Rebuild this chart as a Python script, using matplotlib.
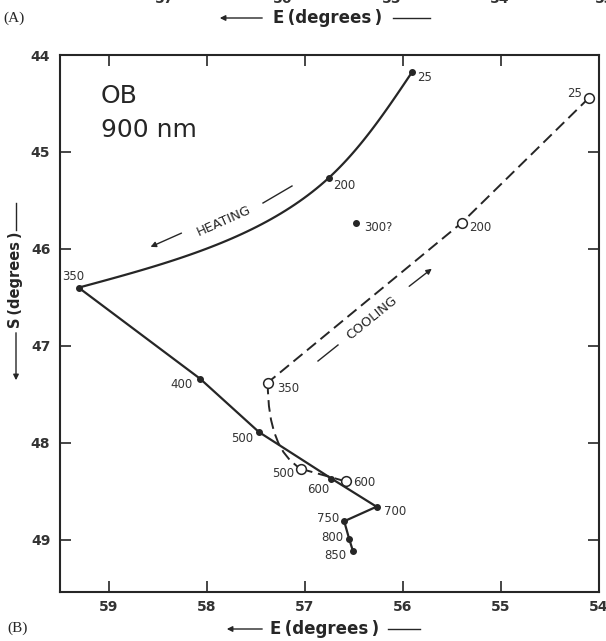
import numpy as np
import matplotlib
matplotlib.use("Agg")
import matplotlib.pyplot as plt
from matplotlib.path import Path
from matplotlib.patches import PathPatch, FancyArrowPatch

# ---------------- data ----------------
heat_T = ["25", "200", "350", "400", "500", "600", "700", "750", "800", "850"]
heat_E = [55.91, 56.76, 59.31, 58.07, 57.47, 56.73, 56.27, 56.60, 56.55, 56.51]
heat_S = [44.18, 45.27, 46.40, 47.34, 47.89, 48.37, 48.66, 48.81, 48.99, 49.12]

cool_T = ["25", "200", "350", "500", "600"]
cool_E = [54.10, 55.40, 57.38, 57.04, 56.58]
cool_S = [44.44, 45.73, 47.38, 48.27, 48.40]

odd_T = "300?"
odd_E = 56.48
odd_S = 45.73

x_ticks = [59, 58, 57, 56, 55, 54]
y_ticks = [44, 45, 46, 47, 48, 49]
top_cut_labels = ["57", "56", "55", "54", "53"]

# ---------------- figure ----------------
W, H = 606, 641
fig = plt.figure(figsize=(W / 100, H / 100), dpi=100)
plt.rcParams['font.family'] = ['DejaVu Sans']
ink = '#262626'
txt = '#333333'


def px(x, y):
    """image pixel (from top-left) -> figure fraction"""
    return x / W, 1 - y / H


ax = fig.add_axes([60 / W, 1 - 592 / H, (599 - 60) / W, (592 - 55) / H])
ax.set_xlim(59.5, 54.0)
ax.set_ylim(49.54, 44.0)
ax.set_xticks(x_ticks)
ax.set_yticks(y_ticks)
ax.tick_params(direction='in', length=8, width=1.2, color=ink,
               top=True, right=True, labelsize=10, labelcolor=txt)
ax.tick_params(axis='y', pad=7)
ax.tick_params(axis='x', pad=6)
for lab in ax.get_xticklabels() + ax.get_yticklabels():
    lab.set_fontweight('bold')
for s in ax.spines.values():
    s.set_linewidth(1.5)
    s.set_color(ink)


# ---- heating curve: smooth part (25 -> 200 -> 350), then straight ----
def natural_spline(xs, ys, n=50):
    """parametric natural cubic spline (chord-length parameter)"""
    P = np.column_stack([xs, ys])
    h = np.hypot(*np.diff(P, axis=0).T)
    k = len(P)
    A = np.zeros((k, k))
    B = np.zeros((k, 2))
    A[0, 0] = A[-1, -1] = 1
    for i in range(1, k - 1):
        A[i, i - 1] = h[i - 1]
        A[i, i] = 2 * (h[i - 1] + h[i])
        A[i, i + 1] = h[i]
        B[i] = 6 * ((P[i + 1] - P[i]) / h[i] - (P[i] - P[i - 1]) / h[i - 1])
    M = np.linalg.solve(A, B)
    out = []
    for i in range(k - 1):
        s = np.linspace(0, h[i], n)[:, None]
        a = (h[i] - s) / h[i]
        b = s / h[i]
        seg = (a * P[i] + b * P[i + 1]
               + ((a ** 3 - a) * M[i] + (b ** 3 - b) * M[i + 1]) * h[i] ** 2 / 6)
        out.append(seg)
    return np.vstack(out)


curve = natural_spline(heat_E[:3], heat_S[:3])
ax.plot(curve[:, 0], curve[:, 1], color=ink, lw=1.6, solid_capstyle='round')
ax.plot(heat_E[2:], heat_S[2:], color=ink, lw=1.6, solid_joinstyle='round')
ax.plot(heat_E, heat_S, 'o', color=ink, ms=4, zorder=5)
ax.plot([odd_E], [odd_S], 'o', color=ink, ms=4, zorder=5)

# ---- cooling curve (dashed) ----
dash = (0, (6, 3))
ax.plot(cool_E[:3], cool_S[:3], color=ink, lw=1.4, linestyle=dash)
verts = [(cool_E[2], cool_S[2]), (cool_E[2], cool_S[3] - 0.2), (cool_E[3], cool_S[3])]
pp = PathPatch(Path(verts, [Path.MOVETO, Path.CURVE3, Path.CURVE3]), fill=False,
               ec=ink, lw=1.4, linestyle=dash)
ax.add_patch(pp)
ax.plot(cool_E[3:], cool_S[3:], color=ink, lw=1.4, linestyle=dash)
ax.plot(cool_E, cool_S, 'o', mfc='white', mec=ink, mew=1.1, ms=7, zorder=6, linestyle='none')

# ---- point labels ----
heat_off = [(13, -5), (16, -7), (-5, 11), (-19, -6), (-17, -6), (-13, -11),
            (19, -5), (-16, 3), (-17, 1), (-18, -4)]
for t, e, s, o in zip(heat_T, heat_E, heat_S, heat_off):
    ax.annotate(t, (e, s), xytext=o, textcoords='offset pixels', ha='center',
                va='center', fontsize=8.5, color=txt)
cool_off = [(-15, 4), (18, -5), (20, -6), (-18, -5), (18, -1)]
for t, e, s, o in zip(cool_T, cool_E, cool_S, cool_off):
    ax.annotate(t, (e, s), xytext=o, textcoords='offset pixels', ha='center',
                va='center', fontsize=8.5, color=txt)
ax.annotate(odd_T, (odd_E, odd_S), xytext=(22, -5), textcoords='offset pixels',
            ha='center', va='center', fontsize=8.5, color=txt)

# ---- sample label ----
fig.text(*px(101, 103), "OB", fontsize=18, color=ink, ha='left', va='baseline')
fig.text(*px(101, 137), "900 nm", fontsize=18, color=ink, ha='left', va='baseline')

# ---- HEATING / COOLING annotations ----
arrowprops = dict(arrowstyle='-|>', color=ink, lw=1.0, mutation_scale=8)
fig.text(*px(224, 221), "HEATING", fontsize=9.5, color=ink, rotation=24,
         ha='center', va='center', rotation_mode='anchor')
fig.add_artist(FancyArrowPatch(px(184, 232), px(148, 248),
               transform=fig.transFigure, **arrowprops))
fig.add_artist(plt.Line2D([263 / W, 292 / W], [1 - 203 / H, 1 - 186 / H], color=ink, lw=1.0))

fig.text(*px(372, 318), "COOLING", fontsize=9.5, color=ink, rotation=39,
         ha='center', va='center', rotation_mode='anchor')
fig.add_artist(plt.Line2D([318 / W, 338 / W], [1 - 361 / H, 1 - 345 / H], color=ink, lw=1.0))
fig.add_artist(FancyArrowPatch(px(407, 288), px(434, 267),
               transform=fig.transFigure, **arrowprops))


# ---- axis titles ----
def e_title(y, x0, x1, x2, x3):
    fig.add_artist(FancyArrowPatch(px(x1, y), px(x0, y),
                   transform=fig.transFigure, **arrowprops))
    fig.text(*px((x1 + x2) / 2 + 1, y), "E\u2009(degrees\u2009)", fontsize=12, color=ink,
             ha='center', va='center', fontweight='bold')
    fig.add_artist(plt.Line2D([(x2 + 5) / W, x3 / W], [1 - y / H, 1 - y / H], color=ink, lw=1.0))


e_title(18, 217, 265, 388, 430)
e_title(629, 224, 265, 383, 420)
fig.text(*px(14, 18), "(A)", fontsize=11, color=ink, ha='center', va='center',
         family='Liberation Serif')
fig.text(*px(18, 628), "(B)", fontsize=11, color=ink, ha='center', va='center',
         family='Liberation Serif')

# S axis title (vertical)
fig.text(*px(16, 280), "S\u2009(degrees\u2009)", fontsize=10.5, color=ink, rotation=90,
         ha='center', va='center', fontweight='bold')
fig.add_artist(plt.Line2D([16 / W, 16 / W], [1 - 203 / H, 1 - 230 / H], color=ink, lw=1.0))
fig.add_artist(FancyArrowPatch(px(16, 330), px(16, 383),
               transform=fig.transFigure, **arrowprops))

# cut-off tick labels of the panel above
for lab, xx in zip(top_cut_labels, [165, 283, 392, 500, 605]):
    fig.text(*px(xx, 3), lab, fontsize=10, color=txt, ha='center', va='baseline',
             fontweight='bold')

fig.savefig("out.png", dpi=100, facecolor='white')
